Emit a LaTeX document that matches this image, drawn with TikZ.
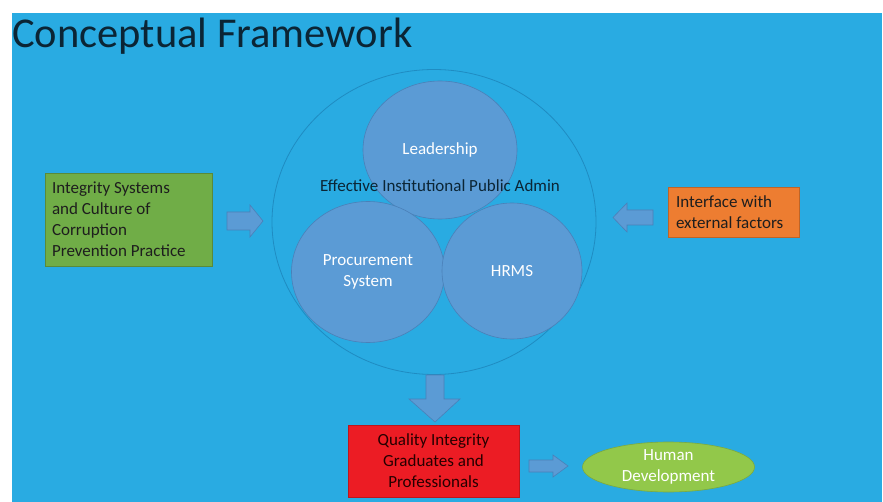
\documentclass[tikz,border=0pt]{standalone}
\usepackage{fontspec}
\setmainfont{Carlito}
\usetikzlibrary{shapes.geometric}
\definecolor{bgblue}{HTML}{29ABE2}
\definecolor{outerline}{HTML}{1F8CC2}
\definecolor{circfill}{HTML}{5B9BD5}
\definecolor{circline}{HTML}{4A80B8}
\definecolor{boxgreen}{HTML}{70AD47}
\definecolor{boxorange}{HTML}{ED7D31}
\definecolor{boxred}{HTML}{EC1C24}
\definecolor{ellgreen}{HTML}{92C84A}
\definecolor{titlecol}{HTML}{0B2535}
\definecolor{darktext}{HTML}{1E1E1E}
\tikzset{
  bodytext/.style={font=\fontsize{17}{21}\selectfont},
  bubble/.style={ellipse, fill=circfill, draw=circline, line width=0.6pt, inner sep=0pt, text=white, bodytext, align=center},
  infobox/.style={rectangle, draw=#1!80!black, fill=#1, line width=0.6pt, bodytext, text=darktext},
  blockarrow/.style={fill=circfill, draw=circline, line width=0.6pt, line join=miter}
}
\begin{document}
\begin{tikzpicture}[x=1pt,y=-1pt]
\useasboundingbox (0,0) rectangle (883,502);
\fill[white] (0,0) rectangle (883,502);
\fill[bgblue] (12,13) rectangle (882,502);

% title
\node[anchor=base west, inner sep=0pt, text=titlecol, font=\fontsize{42.5}{50}\selectfont] (title) at (12,48) {Conceptual Framework};

% outer circle
\node[ellipse, draw=outerline, line width=0.8pt, minimum width=324pt, minimum height=305pt, inner sep=0pt] (outer) at (434,222) {};

% inner circles
\node[bubble, minimum width=154pt, minimum height=138pt] (lead) at (440,150) {Leadership};
\node[bubble, minimum width=153pt, minimum height=141pt] (proc) at (368,272) {Procurement\\System};
\node[bubble, minimum width=140pt, minimum height=136pt] (hrms) at (512,271) {HRMS};

\node[bodytext, text=titlecol, inner sep=0pt] (eipa) at (440,186) {Effective Institutional Public Admin};

% left green box
\node[infobox=boxgreen, minimum width=167pt, minimum height=93pt, text width=153pt, inner xsep=7pt, align=flush left] (integ) at (128.5,219.5) {Integrity Systems\\and Culture of\\Corruption\\Prevention Practice};

% right orange box
\node[infobox=boxorange, minimum width=131pt, minimum height=50pt, text width=115pt, inner xsep=8pt, align=flush left] (iface) at (733.5,212) {Interface with\\external factors};

% red box
\node[infobox=boxred, minimum width=171pt, minimum height=72pt, align=center, text=black!85!red] (qual) at (433.5,461) {Quality Integrity\\Graduates and\\Professionals};

% green ellipse
\node[ellipse, fill=ellgreen, draw=ellgreen!85!black, line width=0.6pt, minimum width=172pt, minimum height=50pt, inner sep=0pt, text=white, bodytext, align=center] (human) at (668.5,467) {Human\\Development};

% block arrows
\draw[blockarrow] (227,212) -- (250,212) -- (250,205) -- (263,221) -- (250,237) -- (250,230) -- (227,230) -- cycle;
\draw[blockarrow] (653,210) -- (627,210) -- (627,203) -- (613,217.5) -- (627,232) -- (627,225) -- (653,225) -- cycle;
\draw[blockarrow] (426,375) -- (444,375) -- (444,399) -- (460,399) -- (435,422) -- (409,399) -- (426,399) -- cycle;
\draw[blockarrow] (529,460) -- (553,460) -- (553,455) -- (568,466) -- (553,477) -- (553,472) -- (529,472) -- cycle;
\end{tikzpicture}
\end{document}
